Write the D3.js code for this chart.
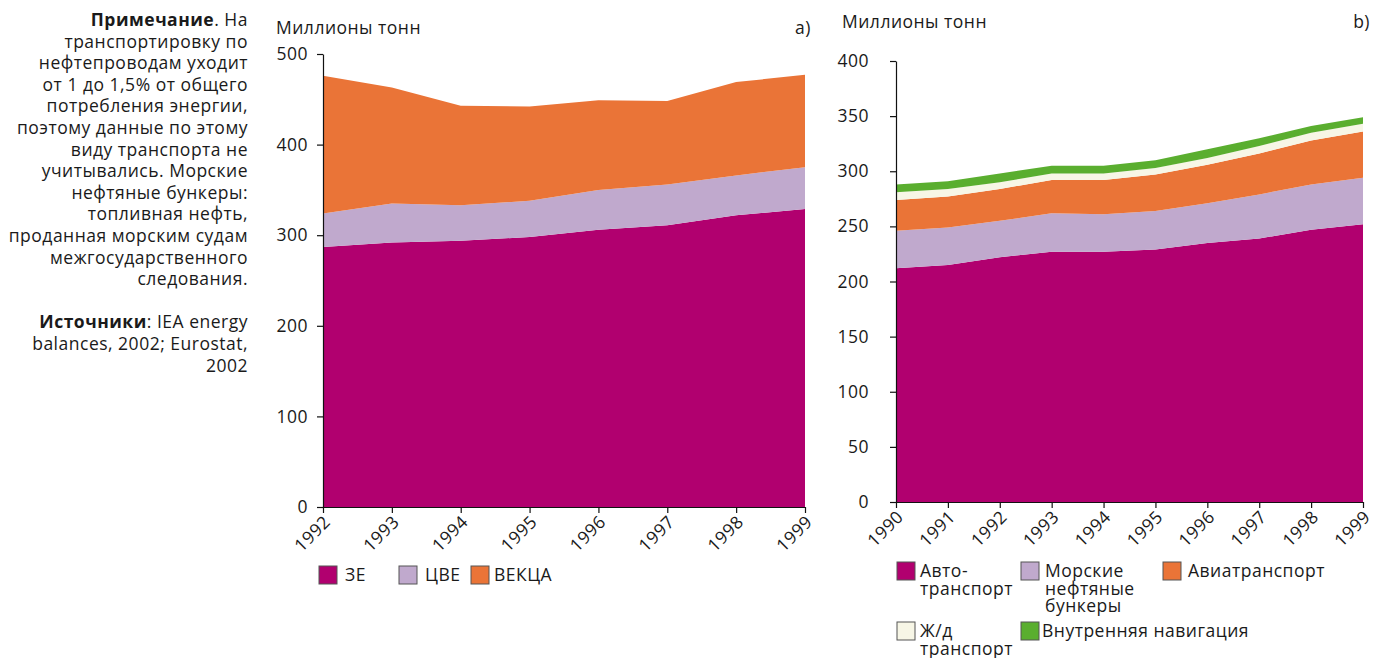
<!DOCTYPE html>
<html>
<head>
<meta charset="utf-8">
<script src="https://cdn.jsdelivr.net/npm/d3@7/dist/d3.min.js"></script>
<style>
  html, body { margin: 0; padding: 0; background: #fff; }
  svg { display: block; }
  text { font-family: "Open Sans", "Noto Sans", sans-serif; fill: #1a1a1a; letter-spacing: 0.5px; }
</style>
</head>
<body>
<svg id="chart" width="1373" height="658"></svg>
<script>
// ---- Panel a: energy use by region, million tonnes ----
const yearsA = [1992, 1993, 1994, 1995, 1996, 1997, 1998, 1999];
const regionKeys = ["ЗЕ", "ЦВЕ", "ВЕКЦА"];
const westEurope   = [287, 292, 294, 298, 306, 311, 322, 329];
const centralEast  = [37, 43, 39, 40, 44, 45, 44, 46];
const eeccaRegion  = [152, 128, 110, 104, 99, 92, 103, 102];
const ticksA = [0, 100, 200, 300, 400, 500];

// ---- Panel b: energy use by transport mode, million tonnes ----
const yearsB = [1990, 1991, 1992, 1993, 1994, 1995, 1996, 1997, 1998, 1999];
const modeKeys = ["Автотранспорт", "Морские нефтяные бункеры", "Авиатранспорт", "Ж/д транспорт", "Внутренняя навигация"];
const road     = [212, 215, 222, 227, 227, 229, 235, 239, 247, 252];
const bunkers  = [34, 34, 33, 35, 34, 35, 36, 40, 41, 42];
const aviation = [28, 28, 29, 30, 31, 33, 35, 37, 40, 42];
const rail     = [7, 7, 6, 6, 6, 6, 6, 7, 7, 7];
const inland   = [7, 7, 8, 7, 7, 7, 8, 7, 6, 6];
const ticksB = [0, 50, 100, 150, 200, 250, 300, 350, 400];

const colorsA = ["#b1006f", "#c0a9cd", "#ea7437"];
const colorsB = ["#b1006f", "#c0a9cd", "#ea7437", "#f7f6e6", "#5aae2f"];

const FS = 17.5;
const svg = d3.select("#chart");

function rowsFrom(years, keys, arrays) {
  return years.map((yr, i) => {
    const r = { year: yr };
    keys.forEach((k, j) => { r[k] = arrays[j][i]; });
    return r;
  });
}

function drawPanel(opt) {
  const g = svg.append("g");
  const x = d3.scaleLinear().domain(d3.extent(opt.years)).range([opt.x0, opt.x1]);
  const y = d3.scaleLinear().domain([0, d3.max(opt.ticks)]).range([opt.y0, opt.y1]);
  const rows = rowsFrom(opt.years, opt.keys, opt.arrays);
  const stacked = d3.stack().keys(opt.keys)(rows);
  const area = d3.area()
    .x(d => x(d.data.year))
    .y0(d => y(d[0]))
    .y1(d => y(d[1]));

  g.selectAll("path.layer").data(stacked).join("path")
    .attr("class", "layer")
    .attr("d", area)
    .attr("fill", (d, i) => opt.colors[i]);

  // y axis
  const ya = g.append("g").attr("transform", `translate(${opt.x0},0)`)
    .call(d3.axisLeft(y).tickValues(opt.ticks).tickSize(6).tickSizeOuter(0).tickFormat(d3.format("d")));
  ya.select(".domain").attr("stroke", "#111").attr("stroke-width", 1.2);
  ya.selectAll(".tick line").attr("stroke", "#111").attr("stroke-width", 1.2);
  ya.selectAll(".tick text").attr("font-size", FS).attr("fill", "#1a1a1a")
    .attr("font-family", "Open Sans, Noto Sans, sans-serif").attr("x", opt.labelOffset);

  // x axis
  const xa = g.append("g").attr("transform", `translate(0,${opt.y0})`)
    .call(d3.axisBottom(x).tickValues(opt.years).tickSize(6).tickSizeOuter(0).tickFormat(d3.format("d")));
  xa.select(".domain").attr("stroke", "#111").attr("stroke-width", 1.2);
  xa.selectAll(".tick line").attr("stroke", "#111").attr("stroke-width", 1.2);
  xa.selectAll(".tick text")
    .attr("font-size", FS).attr("fill", "#1a1a1a")
    .attr("font-family", "Open Sans, Noto Sans, sans-serif")
    .attr("text-anchor", "end")
    .attr("dy", null).attr("y", null)
    .attr("transform", "translate(8,16) rotate(-45)");

  // unit label and panel letter
  g.append("text").attr("x", opt.unitX).attr("y", opt.unitY).attr("font-size", FS).text("Миллионы тонн");
  g.append("text").attr("x", opt.letterX).attr("y", opt.unitY).attr("font-size", FS)
    .attr("text-anchor", "end").text(opt.letter);
}

drawPanel({
  years: yearsA, keys: regionKeys, arrays: [westEurope, centralEast, eeccaRegion],
  ticks: ticksA, colors: colorsA,
  x0: 323, x1: 805, y0: 507, y1: 54,
  unitX: 276, unitY: 34, letterX: 811, letter: "a)", labelOffset: -15
});

drawPanel({
  years: yearsB, keys: modeKeys, arrays: [road, bunkers, aviation, rail, inland],
  ticks: ticksB, colors: colorsB,
  x0: 896, x1: 1363, y0: 502, y1: 61,
  unitX: 842, unitY: 28, letterX: 1370, letter: "b)", labelOffset: -27
});

// ---- legends ----
function legendItem(xs, ys, color, lines, tx) {
  svg.append("rect").attr("x", xs).attr("y", ys).attr("width", 18).attr("height", 18)
    .attr("fill", color).attr("stroke", "#555").attr("stroke-width", 1);
  const t = svg.append("text").attr("x", tx).attr("y", ys + 15).attr("font-size", FS);
  lines.forEach((ln, i) => {
    t.append("tspan").attr("x", tx).attr("dy", i === 0 ? 0 : 17.5).text(ln);
  });
}

const legendA = [
  { c: colorsA[0], lines: [regionKeys[0]], x: 319, tx: 345 },
  { c: colorsA[1], lines: [regionKeys[1]], x: 399, tx: 425 },
  { c: colorsA[2], lines: [regionKeys[2]], x: 471, tx: 494 }
];
legendA.forEach(d => legendItem(d.x, 566, d.c, d.lines, d.tx));

const legendB = [
  { c: colorsB[0], lines: ["Авто-", "транспорт"], x: 897, y: 562, tx: 920 },
  { c: colorsB[1], lines: ["Морские", "нефтяные", "бункеры"], x: 1021, y: 562, tx: 1045 },
  { c: colorsB[2], lines: ["Авиатранспорт"], x: 1163, y: 562, tx: 1188 },
  { c: colorsB[3], lines: ["Ж/д", "транспорт"], x: 897, y: 622, tx: 920 },
  { c: colorsB[4], lines: ["Внутренняя навигация"], x: 1021, y: 622, tx: 1042 }
];
legendB.forEach(d => legendItem(d.x, d.y, d.c, d.lines, d.tx));

// ---- side note ----
const noteLines = [
  [["Примечание", true], [". На", false]],
  [["транспортировку по", false]],
  [["нефтепроводам уходит", false]],
  [["от 1 до 1,5% от общего", false]],
  [["потребления энергии,", false]],
  [["поэтому данные по этому", false]],
  [["виду транспорта не", false]],
  [["учитывались. Морские", false]],
  [["нефтяные бункеры:", false]],
  [["топливная нефть,", false]],
  [["проданная морским судам", false]],
  [["межгосударственного", false]],
  [["следования.", false]],
  [],
  [["Источники", true], [": IEA energy", false]],
  [["balances, 2002; Eurostat,", false]],
  [["2002", false]]
];
noteLines.forEach((parts, i) => {
  if (!parts.length) return;
  const t = svg.append("text").attr("x", 248).attr("y", 26 + i * 21.6)
    .attr("text-anchor", "end").attr("font-size", FS);
  parts.forEach(([s, b]) => t.append("tspan").attr("font-weight", b ? 700 : 400).text(s));
});
</script>
</body>
</html>
